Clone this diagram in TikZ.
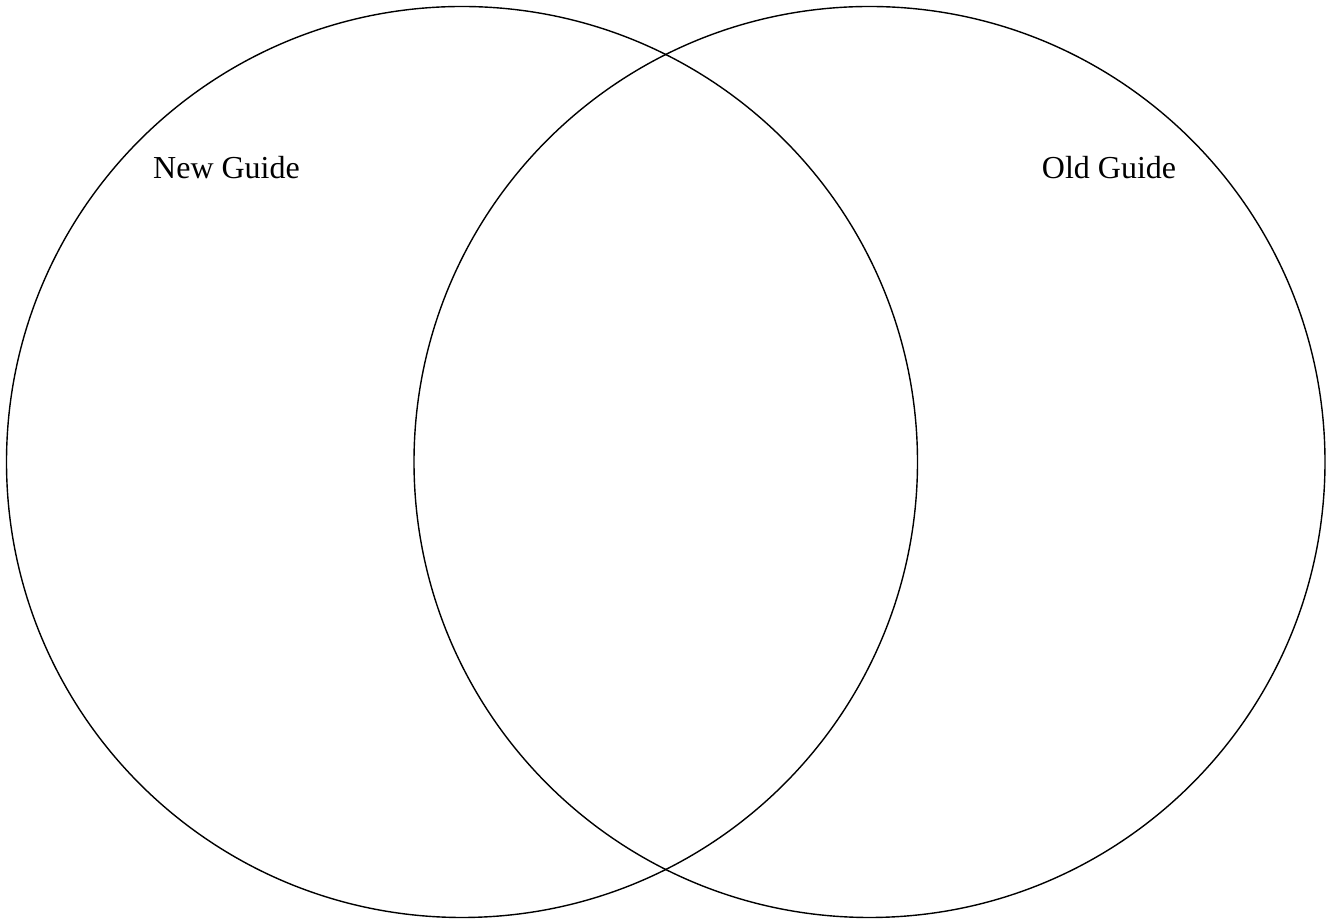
\documentclass[tikz,border=0pt]{standalone}
\usepackage{fontspec}
\setmainfont{Liberation Serif}
\begin{document}
\begin{tikzpicture}[x=1pt,y=1pt,
  venn/.style={circle,draw=black,line width=1.4pt,minimum size=911pt,inner sep=0pt},
  lbl/.style={font=\fontsize{32}{38}\selectfont,inner sep=0pt}]
\useasboundingbox (0,0) rectangle (1331,920);
\node[venn] (newc) at (462,458) {};
\node[venn] (oldc) at (869.5,458) {};
\node[lbl] (newl) at (226.5,752) {New Guide};
\node[lbl] (oldl) at (1109,752) {Old Guide};
\end{tikzpicture}
\end{document}
